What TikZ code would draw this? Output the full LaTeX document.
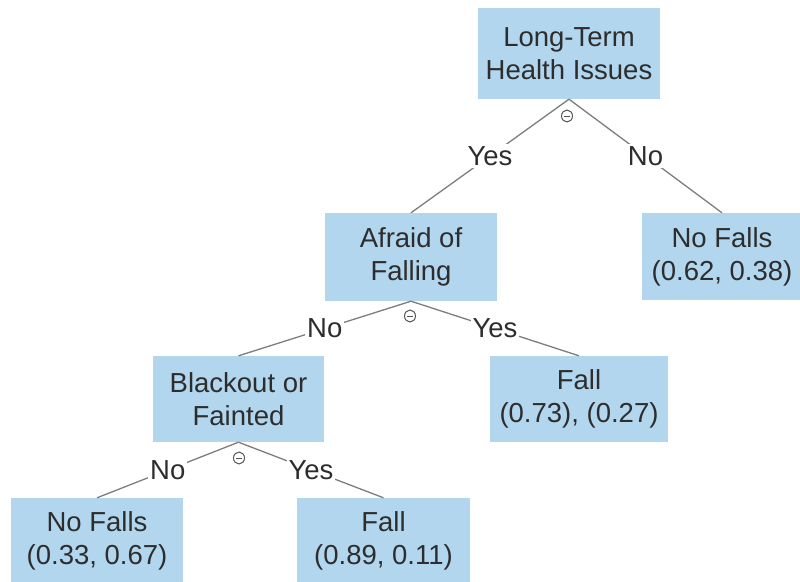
\documentclass[tikz,border=0pt]{standalone}
\usepackage{fontspec}
\setmainfont{Liberation Sans}
\definecolor{boxblue}{RGB}{178,214,238}
\definecolor{txt}{RGB}{45,45,45}
\definecolor{edge}{RGB}{125,125,125}
\definecolor{negc}{RGB}{85,85,85}
\tikzset{
  box/.style={rectangle, fill=boxblue, inner sep=0pt, align=center, text=txt,
    font=\fontsize{27.5}{33}\selectfont},
  elabel/.style={fill=white, inner sep=2pt, text=txt, font=\fontsize{27.5}{33}\selectfont},
  conn/.style={draw=edge, line width=1.3pt},
  neg/.style={ellipse, draw=negc, line width=1pt, minimum width=11pt, minimum height=12pt, inner sep=0pt,
    path picture={\draw[negc, line width=1pt] ([xshift=-3pt]path picture bounding box.center) -- ([xshift=3pt]path picture bounding box.center);}}
}
\usetikzlibrary{shapes.geometric}
\begin{document}
\begin{tikzpicture}[x=1pt,y=-1pt]
\useasboundingbox (0,0) rectangle (800,581);
\clip (0,0) rectangle (800,581);
\node[box, minimum width=182pt, minimum height=91pt] (root) at (569,53.5) {Long-Term\\Health Issues};
\node[box, minimum width=172pt, minimum height=88pt] (afraid) at (411,257) {Afraid of\\Falling};
\node[box, minimum width=160pt, minimum height=87pt] (nofallsR) at (722,256.5) {No Falls\\(0.62, 0.38)};
\node[box, minimum width=171pt, minimum height=86pt] (blackout) at (238.5,399) {Blackout or\\Fainted};
\node[box, minimum width=178pt, minimum height=86pt] (fallM) at (579,399) {Fall\\(0.73), (0.27)};
\node[box, minimum width=172pt, minimum height=86pt] (nofallsB) at (97,541) {No Falls\\(0.33, 0.67)};
\node[box, minimum width=173pt, minimum height=86pt] (fallB) at (383.5,541) {Fall\\(0.89, 0.11)};

\draw[conn] (root.south) -- node[elabel] {Yes} (afraid.north);
\draw[conn] (root.south) -- node[elabel] {No} (nofallsR.north);
\draw[conn] (afraid.south) -- node[elabel] {No} (blackout.north);
\draw[conn] (afraid.south) -- node[elabel] {Yes} (fallM.north);
\draw[conn] (blackout.south) -- node[elabel] {No} (nofallsB.north);
\draw[conn] (blackout.south) -- node[elabel] {Yes} (fallB.north);

\node[neg] (n1) at (567,116) {};
\node[neg] (n2) at (410,316) {};
\node[neg] (n3) at (239,458) {};
\end{tikzpicture}
\end{document}
